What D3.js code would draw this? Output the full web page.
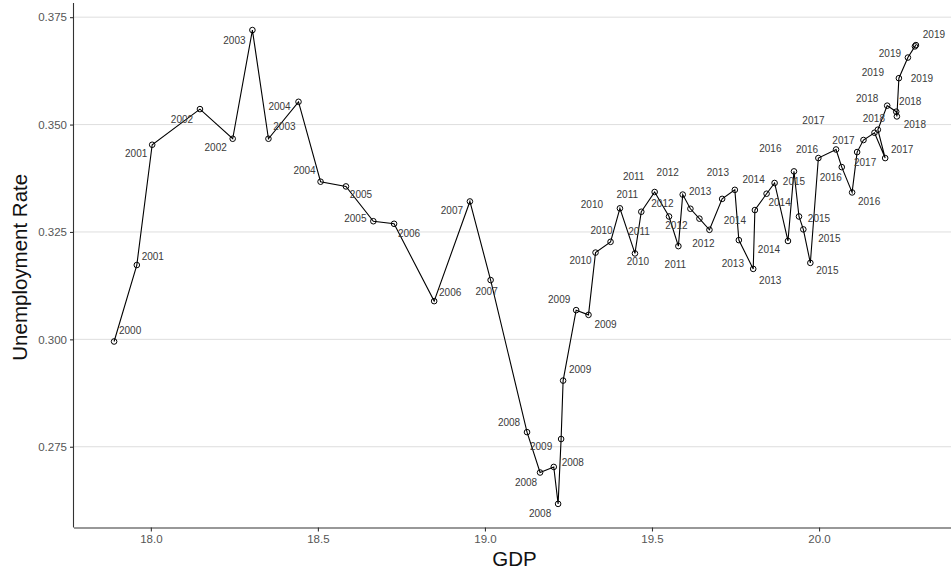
<!DOCTYPE html>
<html lang="en">
<head>
<meta charset="UTF-8">
<title>GDP vs Unemployment Rate</title>
<script src="https://d3js.org/d3.v7.min.js"></script>
<style>
 body {margin: 0; padding: 0; background: #fff;}
 svg {display: block; font-family: "Liberation Sans", Arial, sans-serif;}
 .grid line {stroke: #dedede; stroke-width: 1px;}
 .axis path, .axis line {stroke: #333; stroke-width: 1.1px;}
 .axis text {fill: #555; font-size: 11.5px;}
 .year {fill: #3a3a3a; font-size: 10px; text-anchor: middle;}
 .title {fill: #111; font-size: 20.5px; text-anchor: middle;}
</style>
</head>
<body>
<svg id="chart" width="951" height="574"></svg>
<script>
// values, in path order
const years = [2000, 2001, 2001, 2002, 2002, 2003, 2003, 2004, 2004, 2005, 2005, 2006, 2006, 2007, 2007,
  2008, 2008, 2008, 2008, 2009, 2009, 2009, 2009, 2010, 2010, 2010, 2010, 2011, 2011, 2011, 2011,
  2012, 2012, 2012, 2012, 2013, 2013, 2013, 2013, 2014, 2014, 2014, 2014, 2015, 2015, 2015, 2015,
  2016, 2016, 2016, 2016, 2017, 2017, 2017, 2017, 2018, 2018, 2018, 2018, 2019, 2019, 2019, 2019];
const gdp = [17.890, 17.958, 18.004, 18.147, 18.245, 18.304, 18.352, 18.442, 18.508, 18.584, 18.666,
  18.728, 18.848, 18.955, 19.017, 19.126, 19.165, 19.206, 19.219, 19.228, 19.234, 19.273, 19.310,
  19.331, 19.376, 19.404, 19.449, 19.468, 19.508, 19.551, 19.579, 19.592, 19.615, 19.642, 19.672,
  19.710, 19.748, 19.760, 19.803, 19.808, 19.843, 19.867, 19.907, 19.925, 19.940, 19.953, 19.974,
  19.998, 20.051, 20.068, 20.099, 20.114, 20.133, 20.166, 20.198, 20.176, 20.204, 20.231, 20.233,
  20.239, 20.266, 20.287, 20.290];
const unemp = [0.2995, 0.3173, 0.3453, 0.3536, 0.3467, 0.3720, 0.3467, 0.3553, 0.3367, 0.3356, 0.3275,
  0.3269, 0.3089, 0.3321, 0.3138, 0.2784, 0.2690, 0.2703, 0.2617, 0.2768, 0.2904, 0.3068, 0.3057,
  0.3202, 0.3227, 0.3305, 0.3200, 0.3297, 0.3343, 0.3286, 0.3217, 0.3337, 0.3304, 0.3281, 0.3255,
  0.3327, 0.3348, 0.3231, 0.3164, 0.3301, 0.3339, 0.3364, 0.3229, 0.3391, 0.3286, 0.3256, 0.3178,
  0.3422, 0.3442, 0.3401, 0.3342, 0.3436, 0.3464, 0.3481, 0.3422, 0.3488, 0.3544, 0.3530, 0.3519,
  0.3608, 0.3656, 0.3682, 0.3685];
const xTicks = [18.0, 18.5, 19.0, 19.5, 20.0];
const yTicks = [0.275, 0.300, 0.325, 0.350, 0.375];

// label placement (pixel nudges from each point, like the repelled labels)
const labelNudge = [[16,-11],[16,-9],[-16,9],[-18,10],[-17,9],[-18,10],[16,-12],[-19,5],[-16,-11],[15,8],
  [-18,-3],[15,10],[16,-9],[-18,9],[-4,11],[-18,-10],[-14,10],[19,-4],[-18,10],[-20,7],[17,-11],
  [-17,-11],[17,10],[-15,8],[-9,-11],[-28,-4],[3,8],[-14,-17],[-21,-16],[-30,15],[-3,18],[-15,-22],
  [-28,-5],[-23,7],[-6,14],[-22,-7],[-17,-17],[-6,23],[17,12],[-20,10],[13,9],[-21,-3],[-19,9],
  [0,10],[20,2],[26,9],[17,8],[-48,-10],[-29,0],[-11,10],[17,9],[8,10],[-20,0],[-61,-12],[17,-9],
  [-4,-11],[-20,-7],[14,-10],[18,8],[-26,-6],[14,21],[-25,7],[18,-11]];

const data = years.map((y, i) => ({year: y, x: gdp[i], y: unemp[i], nudge: labelNudge[i]}));

const svg = d3.select('#chart');
const plot = {left: 74, right: 951, top: 3, bottom: 527.5};

const x = d3.scaleLinear().domain([17.77, 20.395]).range([plot.left, plot.right]);
const y = d3.scaleLinear().domain([0.2562, 0.3783]).range([plot.bottom, plot.top]);

// horizontal grid
svg.append('g').attr('class', 'grid')
  .selectAll('line').data(yTicks).enter().append('line')
  .attr('x1', plot.left).attr('x2', plot.right)
  .attr('y1', d => y(d)).attr('y2', d => y(d));

// axes
const xAxis = svg.append('g').attr('class', 'axis')
  .attr('transform', `translate(0,${plot.bottom})`)
  .call(d3.axisBottom(x).tickValues(xTicks).tickFormat(d3.format('.1f')).tickSize(4).tickPadding(3).tickSizeOuter(0));
xAxis.select('.domain').attr('d', `M${plot.left},0.5H${plot.right}`);

const yAxis = svg.append('g').attr('class', 'axis')
  .attr('transform', `translate(${plot.left},0)`)
  .call(d3.axisLeft(y).tickValues(yTicks).tickFormat(d3.format('.3f')).tickSize(4).tickPadding(3).tickSizeOuter(0));
yAxis.select('.domain').attr('d', `M-0.5,${plot.top}V${plot.bottom}`);

// path
const line = d3.line().x(d => x(d.x)).y(d => y(d.y));
svg.append('path').datum(data)
  .attr('d', line)
  .attr('fill', 'none')
  .attr('stroke', '#000')
  .attr('stroke-width', 1.1);

// points
svg.append('g').selectAll('circle').data(data).enter().append('circle')
  .attr('cx', d => x(d.x)).attr('cy', d => y(d.y))
  .attr('r', 2.8)
  .attr('fill', 'none')
  .attr('stroke', '#000')
  .attr('stroke-width', 1);

// year labels
svg.append('g').selectAll('text').data(data).enter().append('text')
  .attr('class', 'year')
  .attr('x', d => x(d.x) + d.nudge[0])
  .attr('y', d => y(d.y) + d.nudge[1])
  .attr('dy', '0.35em')
  .text(d => d.year);

// axis titles
svg.append('text').attr('class', 'title')
  .attr('x', (plot.left + plot.right) / 2 + 2).attr('y', 566)
  .text('GDP');
svg.append('text').attr('class', 'title')
  .attr('transform', `translate(27,${(plot.top + plot.bottom) / 2 + 2}) rotate(-90)`)
  .text('Unemployment Rate');
</script>
</body>
</html>
